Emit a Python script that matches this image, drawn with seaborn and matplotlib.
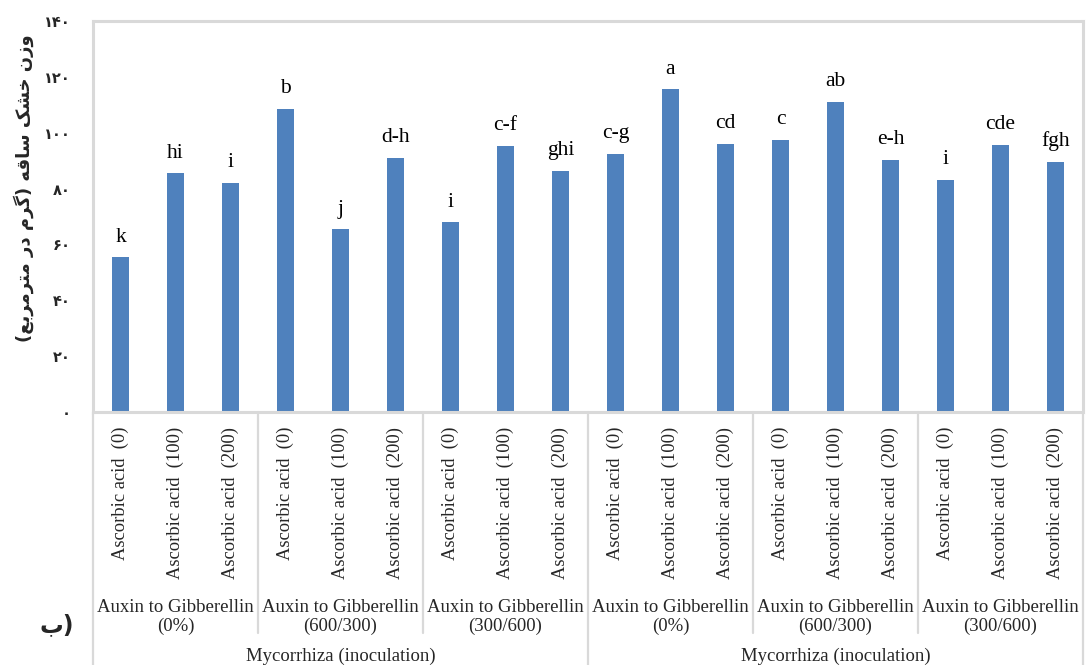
import matplotlib
matplotlib.use("Agg")
import matplotlib.pyplot as plt
import seaborn as sns
import pandas as pd

# data
acid_labels = ["Ascorbic acid  (0)", "Ascorbic acid  (100)", "Ascorbic acid  (200)"] * 6
hormone_labels = ["Auxin to Gibberellin\n(0%)", "Auxin to Gibberellin\n(600/300)",
                  "Auxin to Gibberellin\n(300/600)"] * 2
myco_labels = ["Mycorrhiza (inoculation)", "Mycorrhiza (inoculation)"]
values = [55.4, 85.4, 82.1, 108.6, 65.4, 91.1, 67.9, 95.4, 86.4,
          92.5, 115.7, 96.1, 97.5, 111.1, 90.4, 83.2, 95.7, 89.6]
letters = ["k", "hi", "i", "b", "j", "d-h", "i", "c-f", "ghi",
           "c-g", "a", "cd", "c", "ab", "e-h", "i", "cde", "fgh"]
ytick_vals = [0, 20, 40, 60, 80, 100, 120, 140]
ytick_labels = ["۰", "۲۰", "۴۰", "۶۰", "۸۰", "۱۰۰", "۱۲۰", "۱۴۰"]

# "وزن خشک ساقه (گرم در مترمربع)" in shaped presentation forms, visual order
# (matplotlib has no arabic shaping)
ylabel = ("(\ufeca\ufe91\ufeae\ufee3\ufeae\ufe98\ufee3 \ufead\ufea9 \ufee1\ufeae\ufb94) "
          "\ufeea\ufed7\ufe8e\ufeb3 \ufb8f\ufeb8\ufea7 \ufee5\ufeaf\ufeed")
panel_tag = "\ufe8f)"  # ب)

df = pd.DataFrame({"pos": list(range(len(values))), "value": values})

sns.set_style("white")
plt.rcParams["font.family"] = ["Liberation Serif", "DejaVu Sans"]

W, H = 1086, 665
fig = plt.figure(figsize=(W / 100, H / 100), dpi=100)
ax = fig.add_axes([93 / W, (H - 412) / H, (1083 - 93) / W, (412 - 21) / H])

sns.barplot(data=df, x="pos", y="value", color="#4F81BD", saturation=1,
            width=0.32, linewidth=0, ax=ax)

ax.set_xlim(-0.5, len(values) - 0.5)
ax.set_ylim(0, 140)
ax.set_xticks([])
ax.set_xlabel("")
ax.set_ylabel("")
ax.set_yticks(ytick_vals)
ax.set_yticklabels(ytick_labels, family="DejaVu Sans", fontweight="bold", fontsize=10.5)
ax.tick_params(axis="y", length=0, pad=16)
for s in ax.spines.values():
    s.set_visible(True)
    s.set_color("#D9D9D9")
    s.set_linewidth(2.2)

# significance letters
for i, (v, t) in enumerate(zip(values, letters)):
    ax.annotate(t, (i, v), xytext=(0, 11), textcoords="offset points",
                ha="center", va="baseline", fontsize=15.5, color="black")

# multi level category axis
tr = ax.get_xaxis_transform()
axh = 412 - 21
def yfrac(py):
    return (412 - py) / axh

for i, t in enumerate(acid_labels):
    ax.text(i, yfrac(427), t, transform=tr, rotation=90, ha="center", va="top",
            fontsize=13.3)
for g, t in enumerate(hormone_labels):
    ax.text(g * 3 + 1, yfrac(617), t, transform=tr, ha="center", va="center",
            fontsize=13.5, linespacing=1.1)
for m, t in enumerate(myco_labels):
    ax.text(m * 9 + 4, yfrac(656), t, transform=tr, ha="center", va="center",
            fontsize=13.5)

lc = "#D9D9D9"
for b in [2.5, 5.5, 11.5, 14.5]:
    ax.plot([b, b], [0, yfrac(633)], transform=tr, color=lc, lw=1.6, clip_on=False)
for b in [-0.5, 8.5, len(values) - 0.5]:
    ax.plot([b, b], [0, yfrac(668)], transform=tr, color=lc, lw=1.6, clip_on=False)

fig.text(24 / W, 1 - 188 / H, ylabel, rotation=90, ha="center", va="center",
         family="DejaVu Sans", fontweight="bold", fontsize=13)
fig.text(57 / W, 1 - 625 / H, panel_tag, ha="center", va="center",
         family="DejaVu Sans", fontweight="bold", fontsize=17)

fig.savefig("out.png", dpi=100)
